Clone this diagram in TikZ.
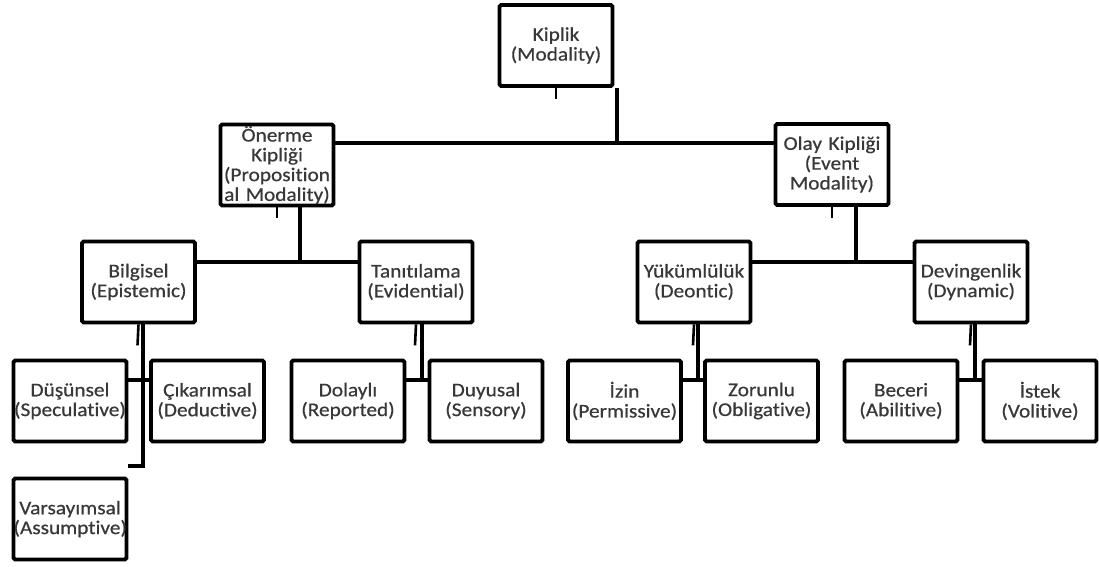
\documentclass[tikz,border=0pt]{standalone}
\usepackage{fontspec}
\setmainfont{Carlito}[FakeStretch=1.1, FakeBold=0.6, Ligatures={NoCommon,NoRare}]
\usepackage{tikz}

\begin{document}
\begin{tikzpicture}[line cap=butt,line join=miter,x=0.5pt,y=-0.5pt,
                    box/.style={draw, line width=1.9pt, rounded corners=0.8pt, inner sep=0pt,
                                text width=56.5pt, minimum height=40.5pt, align=center,
                                text=black!78, font=\fontsize{9.7}{9.9}\selectfont},
                    link/.style={line width=1.9pt},
                    stub/.style={line width=1.3pt}]
                    \useasboundingbox (0,0) rectangle (1099,567);

                    \node[box] (kip) at (556,45.5) {Kiplik\\(Modality)};

                    \node[box] (oner) at (277,165) {Önerme\\Kipliği\\(Proposition\\al Modality)};
                    \node[box] (olay) at (832,164.5) {Olay Kipliği\\(Event\\Modality)};

                    \node[box] (bilg) at (138.5,282) {Bilgisel\\(Epistemic)};
                    \node[box] (tanit) at (416,282) {Tanıtılama\\(Evidential)};
                    \node[box] (yuk) at (694,282) {Yükümlülük\\(Deontic)};
                    \node[box] (dev) at (971,282) {Devingenlik\\(Dynamic)};

                    \node[box] (dus) at (70,401) {Düşünsel\\(Speculative)};
                    \node[box] (cik) at (207.5,401) {Çıkarımsal\\(Deductive)};
                    \node[box] (var) at (70,519) {Varsayımsal\\(Assumptive)};
                    \node[box] (dol) at (348,401) {Dolaylı\\(Reported)};
                    \node[box] (duy) at (486,401) {Duyusal\\(Sensory)};
                    \node[box] (izin) at (624.5,401) {İzin\\(Permissive)};
                    \node[box] (zor) at (761.5,401) {Zorunlu\\(Obligative)};
                    \node[box] (bec) at (901,401) {Beceri\\(Abilitive)};
                    \node[box] (ist) at (1040,401) {İstek\\(Volitive)};

                    \coordinate (k) at (617,143);
                    \draw [link] (kip.south -| k) -- (k);
                    \draw [link] (oner.east |- k) -- (olay.west |- k);
                    \draw [stub] (kip.south) -- ++(0,11);

                    \coordinate (p) at (300,262);
                    \draw [link] (oner.south -| p) -- (p);
                    \draw [link] (bilg.east |- p) -- (tanit.west |- p);
                    \draw [stub] (oner.south) -- ++(0,11);

                    \coordinate (e) at (856,262);
                    \draw [link] (olay.south -| e) -- (e);
                    \draw [link] (yuk.east |- e) -- (dev.west |- e);
                    \draw [stub] (olay.south) -- ++(0,11);

                    \coordinate (b) at (143,466);
                    \coordinate (b2) at (143,380);
                    \draw [link] (bilg.south -| b) -- (b) -- (dus.east |- b);
                    \draw [link] (dus.east |- b2) -- (cik.west |- b2);
                    \draw [stub] (bilg.south) -- ++(-1,21);

                    \coordinate (t) at (422,380);
                    \draw [link] (tanit.south -| t) -- (t);
                    \draw [link] (dol.east |- t) -- (duy.west |- t);
                    \draw [stub] (tanit.south) -- ++(-1,21);

                    \coordinate (d) at (698,380);
                    \draw [link] (yuk.south -| d) -- (d);
                    \draw [link] (izin.east |- d) -- (zor.west |- d);
                    \draw [stub] (yuk.south) -- ++(-1,21);

                    \coordinate (v) at (975,380);
                    \draw [link] (dev.south -| v) -- (v);
                    \draw [link] (bec.east |- v) -- (ist.west |- v);
                    \draw [stub] (dev.south) -- ++(-1,21);
                \end{tikzpicture}
\end{document}
